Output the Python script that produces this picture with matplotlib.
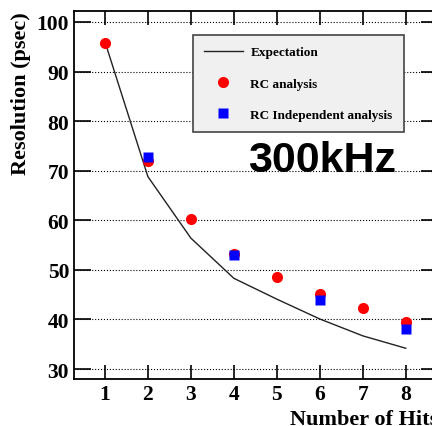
import numpy as np
import matplotlib
matplotlib.use("Agg")
import matplotlib.pyplot as plt

# number of hits
hits = [1, 2, 3, 4, 5, 6, 7, 8]

# expected resolution (psec)
expectation = [96.0, 68.8, 56.4, 48.3, 44.1, 40.1, 36.7, 34.2]

# RC analysis
rc_x = [1, 2, 3, 4, 5, 6, 7, 8]
rc_y = [95.8, 72.0, 60.3, 53.3, 48.5, 45.1, 42.3, 39.5]

# RC independent analysis
rci_x = [2, 4, 6, 8]
rci_y = [72.7, 53.0, 44.0, 38.1]

serif = ['Liberation Serif', 'DejaVu Serif']

fig = plt.figure(figsize=(4.32, 4.27), dpi=100)
ax = fig.add_axes([74/432, 47/427, 364/432, 368/427])

ax.plot(hits, expectation, color='#222222', lw=1.0, label='Expectation')
ax.plot(rc_x, rc_y, 'o', color='#ff0000', ms=8, mec='none', label='RC analysis')
ax.plot(rci_x, rci_y, 's', color='#0000ff', ms=7, mec='none', label='RC Independent analysis')

ax.set_xlim(0.28, 8.75)
ax.set_ylim(28, 102.2)
ax.set_xticks(hits)
ax.set_yticks([30, 40, 50, 60, 70, 80, 90, 100])
ax.yaxis.grid(True, linestyle=':', color='black', lw=0.8)
ax.tick_params(direction='in', top=True, right=True, length=10, width=1.2)
ax.tick_params(axis='y', length=12)
for s in ax.spines.values():
    s.set_linewidth(1.3)

for lab in ax.get_xticklabels() + ax.get_yticklabels():
    lab.set_family(serif)
    lab.set_fontweight('bold')
    lab.set_fontsize(15.5)

ax.set_xlabel('Number of Hits', family=serif, fontweight='bold', fontsize=16, loc='right')
ax.set_ylabel('Resolution (psec)', family=serif, fontweight='bold', fontsize=16, loc='top')

leg = ax.legend(loc='upper left', bbox_to_anchor=(0.327, 0.935), borderaxespad=0,
                prop={'family': serif, 'weight': 'bold', 'size': 9.5},
                frameon=True, fancybox=False, edgecolor='#444444', facecolor='#f0f0f0', framealpha=1,
                labelspacing=1.45, handlelength=2.9, handletextpad=0.6, borderpad=0.85)
leg.get_frame().set_linewidth(1.2)

ax.text(0.478, 0.595, '300kHz', transform=ax.transAxes, family=['Liberation Sans', 'DejaVu Sans'],
        fontweight='bold', fontsize=31, ha='left', va='center')

fig.savefig('out.png', dpi=100)
